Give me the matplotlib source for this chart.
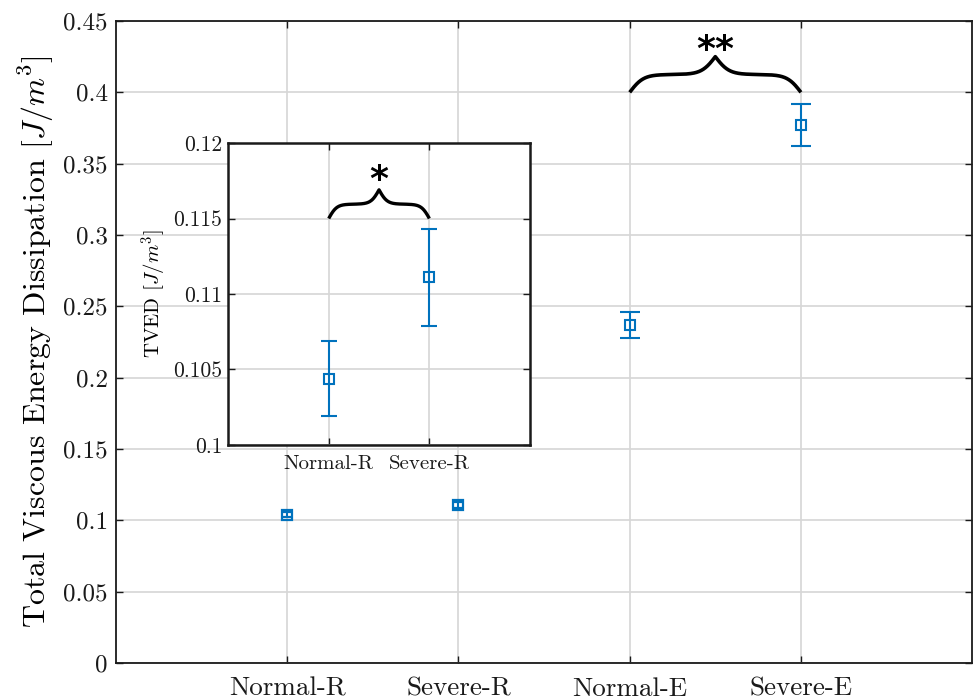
import numpy as np
import matplotlib
matplotlib.use("Agg")
import matplotlib.pyplot as plt

plt.rcParams['font.family'] = 'serif'
plt.rcParams['font.serif'] = ['cmr10']
plt.rcParams['mathtext.fontset'] = 'cm'
plt.rcParams['axes.unicode_minus'] = False

# ---- data ----
categories = ['Normal-R', 'Severe-R', 'Normal-E', 'Severe-E']
means = [0.1040, 0.1107, 0.2369, 0.3771]
errs = [0.0018, 0.0020, 0.0090, 0.0144]

inset_categories = ['Normal-R', 'Severe-R']
inset_means = [0.1044, 0.1111]
inset_errs = [0.0025, 0.0032]

main_yticks = [0, 0.05, 0.1, 0.15, 0.2, 0.25, 0.3, 0.35, 0.4, 0.45]
main_yticklabels = ['0', '0.05', '0.1', '0.15', '0.2', '0.25', '0.3', '0.35', '0.4', '0.45']
inset_yticks = [0.1, 0.105, 0.11, 0.115, 0.12]
inset_yticklabels = ['0.1', '0.105', '0.11', '0.115', '0.12']

blue = '#0072BD'
grid_c = '#d6d6d6'


def brace(ax, x1, x2, y0, h, beta, lw):
    xs = np.linspace(x1, x2, 401)
    half = xs[:201]
    yh = 1 / (1 + np.exp(-beta * (half - half[0]))) + 1 / (1 + np.exp(-beta * (half - half[-1])))
    yv = np.concatenate((yh, yh[-2::-1]))
    ax.plot(xs, y0 + (yv - 0.5) * h, color='black', lw=lw, solid_capstyle='butt', zorder=5)


def style(ax, lw):
    ax.grid(True, color=grid_c, lw=1.2)
    ax.set_axisbelow(True)
    for s in ax.spines.values():
        s.set_linewidth(lw)
        s.set_color('#1a1a1a')
    ax.tick_params(direction='in', top=True, right=True, length=5, width=1.0, colors='#1a1a1a')


fig = plt.figure(figsize=(9.74, 7.0), dpi=100)

# main axes
ax = fig.add_axes([0.1191, 0.0529, 0.879, 0.9171])
xpos = np.arange(1, len(categories) + 1)
small = [0, 1]
large = [2, 3]
ax.errorbar(xpos[small], [means[i] for i in small], yerr=[errs[i] for i in small], fmt='s',
            color=blue, mfc='none', mec=blue, ms=7, mew=1.6, elinewidth=1.5,
            capsize=3.5, capthick=1.5, zorder=4)
ax.errorbar(xpos[large], [means[i] for i in large], yerr=[errs[i] for i in large], fmt='s',
            color=blue, mfc='none', mec=blue, ms=7, mew=1.5, elinewidth=1.5,
            capsize=7, capthick=1.5, zorder=4)
ax.set_xlim(0, 5)
ax.set_ylim(0, 0.45)
ax.set_xticks(xpos)
ax.set_xticklabels(categories, fontsize=19.5)
ax.set_yticks(main_yticks)
ax.set_yticklabels(main_yticklabels, fontsize=18)
ax.set_ylabel(r'Total Viscous Energy Dissipation $[J/m^3]$', fontsize=23, labelpad=5)
style(ax, 1.3)
ax.tick_params(axis='x', pad=10)
ax.tick_params(axis='y', pad=6)
brace(ax, 3, 4, 0.400, 0.0250, 25, 2.6)
ax.text(3.5, 0.4296, '**', ha='center', va='center', fontsize=26, fontweight='bold',
        family='DejaVu Sans', zorder=6)

# inset axes
ax2 = fig.add_axes([0.2341, 0.3643, 0.3101, 0.4314])
ipos = np.arange(1, len(inset_categories) + 1)
ax2.errorbar(ipos, inset_means, yerr=inset_errs, fmt='s', color=blue, mfc='none', mec=blue,
             ms=7, mew=1.5, elinewidth=1.5, capsize=6, capthick=1.5, zorder=4)
ax2.set_xlim(0, 3)
ax2.set_ylim(0.1, 0.12)
ax2.set_xticks(ipos)
ax2.set_xticklabels(inset_categories, fontsize=15)
ax2.set_yticks(inset_yticks)
ax2.set_yticklabels(inset_yticklabels, fontsize=15.5)
ax2.set_ylabel(r'TVED $[J/m^3]$', fontsize=15, labelpad=3)
style(ax2, 1.8)
ax2.tick_params(axis='x', pad=7)
ax2.tick_params(axis='y', pad=4)
brace(ax2, 1, 2, 0.115, 0.0019, 25, 2.4)
ax2.text(1.5, 0.11752, '*', ha='center', va='center', fontsize=26, fontweight='bold',
         family='DejaVu Sans', zorder=6)

fig.savefig('out.png', dpi=100, facecolor='white')
